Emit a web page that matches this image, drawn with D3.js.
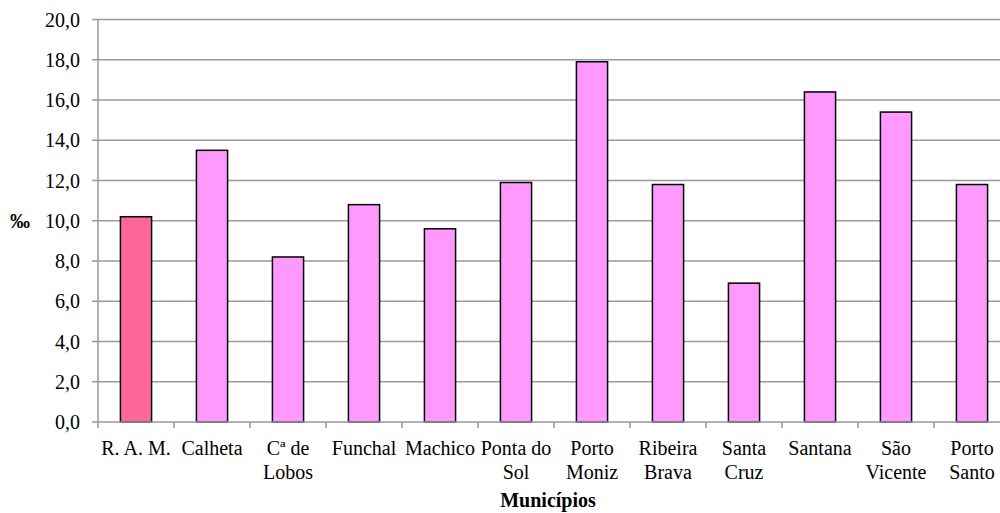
<!DOCTYPE html>
<html><head><meta charset="utf-8">
<script src="https://cdn.jsdelivr.net/npm/d3@7"></script>
</head><body style="margin:0">
<svg id="c" width="1000" height="513"></svg>
<script>
const categories = [["R. A. M."],["Calheta"],["Cª de","Lobos"],["Funchal"],["Machico"],["Ponta do","Sol"],["Porto","Moniz"],["Ribeira","Brava"],["Santa","Cruz"],["Santana"],["São","Vicente"],["Porto","Santo"]];
const values = [10.2,13.5,8.2,10.8,9.6,11.9,17.9,11.8,6.9,16.4,15.4,11.8];
const yTicks = [0,2,4,6,8,10,12,14,16,18,20];
const yTickLabels = ["0,0","2,0","4,0","6,0","8,0","10,0","12,0","14,0","16,0","18,0","20,0"];
const colors = ["#FF6699","#FF99FF"];
const FONT = "Times New Roman";
const FS = 20;

const svg = d3.select("#c");
const x0 = 98, x1 = 1010, yTop = 19.5, yBot = 422;
const x = d3.scaleBand().domain(d3.range(categories.length)).range([x0, x1]).paddingInner(0.59).paddingOuter(0.295);
const y = d3.scaleLinear().domain([0,20]).range([yBot, yTop]);

svg.append("g").selectAll("line").data(yTicks.filter(d=>d>0)).join("line")
  .attr("x1", x0).attr("x2", x1).attr("y1", d=>y(d)).attr("y2", d=>y(d))
  .attr("stroke", "#999").attr("stroke-width", 1.5);

svg.append("g").selectAll("rect").data(values).join("rect")
  .attr("x", (d,i)=>x(i)).attr("width", x.bandwidth())
  .attr("y", d=>y(d)).attr("height", d=>yBot - y(d))
  .attr("fill", (d,i)=> i===0 ? colors[0] : colors[1])
  .attr("stroke", "#000").attr("stroke-width", 1.5);

const ya = svg.append("g");
ya.append("line").attr("x1", x0).attr("x2", x0).attr("y1", yTop).attr("y2", yBot).attr("stroke", "#999").attr("stroke-width", 1.5);
ya.selectAll("line.t").data(yTicks).join("line").attr("class","t")
  .attr("x1", x0-6).attr("x2", x0).attr("y1", d=>y(d)).attr("y2", d=>y(d)).attr("stroke", "#999").attr("stroke-width", 1.5);
yTicks.forEach((d,i)=>{
  svg.append("text").attr("x", x0-18).attr("y", y(d)+7).attr("text-anchor","end")
    .attr("font-size", FS).attr("font-family", FONT).text(yTickLabels[i]);
});

const step = x.step();
const xa = svg.append("g");
xa.append("line").attr("x1", x0).attr("x2", x1).attr("y1", yBot).attr("y2", yBot).attr("stroke", "#999").attr("stroke-width", 1.5);
xa.selectAll("line.t").data(d3.range(categories.length+1)).join("line").attr("class","t")
  .attr("x1", i=>x0 + i*step).attr("x2", i=>x0 + i*step).attr("y1", yBot).attr("y2", yBot+6)
  .attr("stroke", "#999").attr("stroke-width", 1.5);
categories.forEach((lines,i)=>{
  lines.forEach((s,j)=>{
    svg.append("text").attr("x", x(i)+x.bandwidth()/2).attr("y", yBot+33+j*24)
      .attr("text-anchor","middle").attr("font-size", FS).attr("font-family", FONT).text(s);
  });
});

svg.append("text").attr("x", 548).attr("y", 507).attr("text-anchor","middle")
  .attr("font-size", FS).attr("font-family", FONT).attr("font-weight","bold").text("Municípios");
svg.append("text").attr("x", 20).attr("y", 228).attr("text-anchor","middle")
  .attr("font-size", FS).attr("font-family", FONT).attr("font-weight","bold").text("‰");
</script>
</body></html>
